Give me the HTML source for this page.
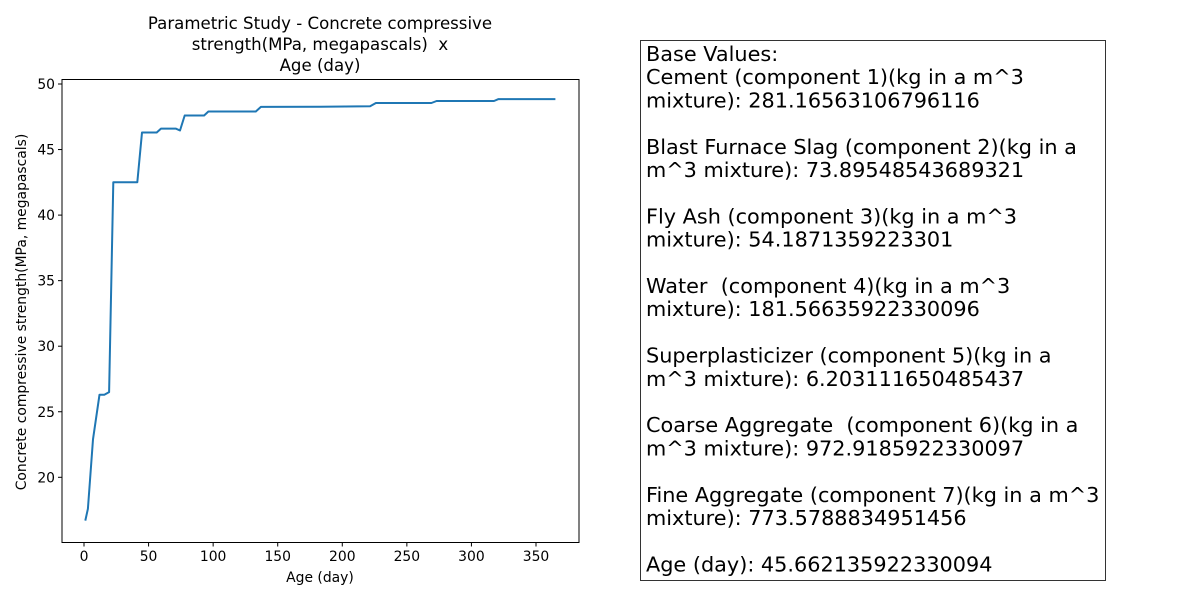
<!DOCTYPE html>
<html><head><meta charset="utf-8"><style>
body{margin:0;background:#fff;}
svg{display:block;font-family:"DejaVu Sans","Liberation Sans",sans-serif;}
text{white-space:pre;}
</style></head><body>
<svg id="c" width="1200" height="600">
<g id="title" font-size="16.6" text-anchor="middle" fill="#000">
<text x="320" y="29">Parametric Study - Concrete compressive</text>
<text x="320" y="50">strength(MPa, megapascals)  x</text>
<text x="320" y="71">Age (day)</text>
</g>
<rect x="62" y="79.5" width="517" height="463" fill="none" stroke="#000" stroke-width="1"/>
<g id="xt"></g>
<g id="yt"></g>
<text x="320" y="582" font-size="13.9" text-anchor="middle">Age (day)</text>
<text transform="translate(26,312) rotate(-90)" font-size="13.9" text-anchor="middle">Concrete compressive strength(MPa, megapascals)</text>
<path id="line" fill="none" stroke="#1f77b4" stroke-width="2" stroke-linejoin="round"/>
<rect x="640.5" y="40.5" width="465" height="540" fill="#fff" stroke="#333" stroke-width="1"/>
<g id="box" font-size="20.8" fill="#000"></g>
</svg>
<script>
const days=[1,3,7,12,15.7,19.4,22.7,41.3,44.9,56.3,59.6,71,74.3,78,93,96.3,133,137,183,221.5,226,269,273,317.5,321,365];
const strength=[16.7,17.6,22.9,26.3,26.3,26.5,42.5,42.5,46.3,46.3,46.6,46.6,46.45,47.6,47.6,47.9,47.9,48.25,48.27,48.3,48.55,48.55,48.7,48.7,48.85,48.85];
const xTicks=[0,50,100,150,200,250,300,350];
const yTicks=[20,25,30,35,40,45,50];
const boxLines=["Base Values:","Cement (component 1)(kg in a m^3","mixture): 281.16563106796116","","Blast Furnace Slag (component 2)(kg in a","m^3 mixture): 73.89548543689321","","Fly Ash (component 3)(kg in a m^3","mixture): 54.1871359223301","","Water  (component 4)(kg in a m^3","mixture): 181.56635922330096","","Superplasticizer (component 5)(kg in a","m^3 mixture): 6.203111650485437","","Coarse Aggregate  (component 6)(kg in a","m^3 mixture): 972.9185922330097","","Fine Aggregate (component 7)(kg in a m^3","mixture): 773.5788834951456","","Age (day): 45.662135922330094"];
const NS="http://www.w3.org/2000/svg";
const X=d=>84+d*(536-84)/350;
const Y=v=>477.3-(v-20)*(477.3-84)/30;
const xt=document.getElementById('xt'),yt=document.getElementById('yt');
xTicks.forEach(t=>{
 const l=document.createElementNS(NS,'line');
 
 
 l.setAttribute('x1',X(t));l.setAttribute('x2',X(t));l.setAttribute('y1',542.5);l.setAttribute('y2',546.5);l.setAttribute('stroke','#000');
 xt.appendChild(l);
 const s=document.createElementNS(NS,'text');
 
 
 s.setAttribute('x',X(t));s.setAttribute('y',561);s.setAttribute('font-size','13.9');s.setAttribute('text-anchor','middle');
 s.textContent=t;xt.appendChild(s);
});
yTicks.forEach(t=>{
 const l=document.createElementNS(NS,'line');
 
 
 l.setAttribute('x1',58);l.setAttribute('x2',62);l.setAttribute('y1',Y(t));l.setAttribute('y2',Y(t));l.setAttribute('stroke','#000');
 yt.appendChild(l);
 const s=document.createElementNS(NS,'text');
 
 
 s.setAttribute('x',55);s.setAttribute('y',Y(t)+5);s.setAttribute('font-size','13.9');s.setAttribute('text-anchor','end');
 s.textContent=t;yt.appendChild(s);
});
document.getElementById('line').setAttribute('d',days.map((d,i)=>(i?'L':'M')+X(d).toFixed(1)+','+Y(strength[i]).toFixed(1)).join(''));
const box=document.getElementById('box');
boxLines.forEach((t,i)=>{
 const s=document.createElementNS(NS,'text');
 
 
 s.setAttribute('x',646);s.setAttribute('y',61+i*23.2);
 s.textContent=t;box.appendChild(s);
});
</script>
</body></html>
